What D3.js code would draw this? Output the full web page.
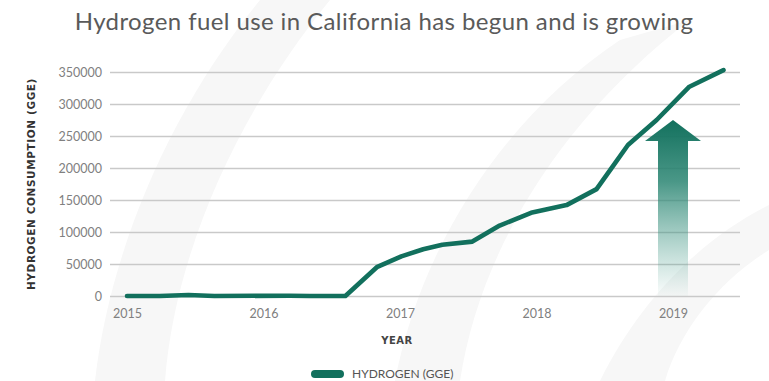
<!DOCTYPE html>
<html>
<head>
<meta charset="utf-8">
<script src="https://cdn.jsdelivr.net/npm/d3@7"></script>
<style>
  html, body { margin: 0; padding: 0; background: #fff; }
  svg { display: block; }
</style>
</head>
<body>
<svg id="chart" width="769" height="381"></svg>
<script>
// Monthly-ish sample points, as decimal years
const periods = [2015.0, 2015.24, 2015.45, 2015.64, 2016.19, 2016.34, 2016.6, 2016.83, 2017.01, 2017.17,
                 2017.31, 2017.53, 2017.73, 2017.96, 2018.22, 2018.44, 2018.56, 2018.67, 2018.88, 2019.12, 2019.37];
// Hydrogen consumption, gasoline gallon equivalents
const hydrogenGGE = [0, 0, 1500, 0, 500, 0, 0, 45000, 62000, 73000,
                     80000, 85000, 110000, 130000, 142000, 167000, 203000, 236000, 275000, 327000, 353000];
const yearTicks = [2015, 2016, 2017, 2018, 2019];
const valueTicks = [0, 50000, 100000, 150000, 200000, 250000, 300000, 350000];
// Growth arrow: drawn at 2019 from zero up to this level
const arrowYear = 2019;
const arrowTop = 275000;

const svg = d3.select("#chart");
const teal = "#12705d";

// faint watermark swooshes in the background
const bg = svg.append("g").attr("fill", "#f7f7f7");
bg.append("path").attr("d", "M95,381 C110,250 170,110 260,0 L330,0 C240,110 175,250 165,381 Z");
bg.append("path").attr("d", "M395,381 C420,250 500,120 620,40 L690,20 C560,120 480,250 460,381 Z");
bg.append("path").attr("d", "M600,381 C640,300 700,240 769,205 L769,250 C720,280 680,330 665,381 Z");

const x = d3.scaleLinear().domain([2015, 2019]).range([127, 673]);
const y = d3.scaleLinear().domain([0, 350000]).range([296, 72]);

// gridlines
const grid = d3.axisLeft(y).tickValues(valueTicks).tickSize(-630).tickFormat("");
svg.append("g").attr("transform", "translate(110,0)").call(grid)
  .call(g => g.select(".domain").remove())
  .call(g => g.selectAll("line").attr("stroke", "#c9c9c9").attr("stroke-width", 1.3));

// y tick labels
const yAxis = d3.axisLeft(y).tickValues(valueTicks).tickSize(0).tickPadding(0).tickFormat(d3.format("d"));
svg.append("g").attr("transform", "translate(102,0)").call(yAxis)
  .call(g => g.select(".domain").remove())
  .call(g => g.selectAll("text").attr("fill", "#808080").attr("font-size", 12.5)
    .attr("font-family", "Lato, 'DejaVu Sans', sans-serif"));

// x tick labels
const xAxis = d3.axisBottom(x).tickValues(yearTicks).tickSize(0).tickPadding(0).tickFormat(d3.format("d"));
svg.append("g").attr("transform", "translate(0,309)").call(xAxis)
  .call(g => g.select(".domain").remove())
  .call(g => g.selectAll("text").attr("fill", "#808080").attr("font-size", 12.5)
    .attr("font-family", "Lato, 'DejaVu Sans', sans-serif"));

// growth arrow with fading gradient
const defs = svg.append("defs");
const grad = defs.append("linearGradient").attr("id", "arrowFade")
  .attr("gradientUnits", "userSpaceOnUse")
  .attr("x1", 0).attr("x2", 0).attr("y1", y(arrowTop)).attr("y2", y(0));
grad.append("stop").attr("offset", 0).attr("stop-color", teal).attr("stop-opacity", 1);
grad.append("stop").attr("offset", 0.35).attr("stop-color", "#2a8572").attr("stop-opacity", 0.85);
grad.append("stop").attr("offset", 1).attr("stop-color", "#5aa898").attr("stop-opacity", 0.03);

const ax = x(arrowYear), tipY = y(arrowTop), baseY = y(0);
const headH = 21, headW = 28, shaftW = 15;
const arrowPath = d3.path();
arrowPath.moveTo(ax, tipY);
arrowPath.lineTo(ax + headW, tipY + headH);
arrowPath.lineTo(ax + shaftW, tipY + headH);
arrowPath.lineTo(ax + shaftW, baseY);
arrowPath.lineTo(ax - shaftW, baseY);
arrowPath.lineTo(ax - shaftW, tipY + headH);
arrowPath.lineTo(ax - headW, tipY + headH);
arrowPath.closePath();
svg.append("path").attr("d", arrowPath.toString()).attr("fill", "url(#arrowFade)");

// consumption line
const data = periods.map((p, i) => ({ p, v: hydrogenGGE[i] }));
const line = d3.line().x(d => x(d.p)).y(d => y(d.v));
svg.append("path").datum(data).attr("d", line)
  .attr("fill", "none").attr("stroke", teal).attr("stroke-width", 4.6)
  .attr("stroke-linejoin", "round").attr("stroke-linecap", "round");

// title
svg.append("text").attr("x", 384).attr("y", 30).attr("text-anchor", "middle")
  .attr("font-family", "Lato, 'DejaVu Sans', sans-serif").attr("font-size", 24)
  .attr("letter-spacing", 0.4).attr("fill", "#5a5a5a").text("Hydrogen fuel use in California has begun and is growing");

// axis titles
svg.append("text").attr("transform", "translate(35,184) rotate(-90)").attr("text-anchor", "middle")
  .attr("font-family", "'DejaVu Sans', sans-serif").attr("font-weight", "bold").attr("font-size", 10.5)
  .attr("letter-spacing", 0.6).attr("fill", "#333").text("HYDROGEN CONSUMPTION (GGE)");
svg.append("text").attr("x", 397).attr("y", 344).attr("text-anchor", "middle")
  .attr("font-family", "'DejaVu Sans', sans-serif").attr("font-weight", "bold").attr("font-size", 10)
  .attr("letter-spacing", 0.5).attr("fill", "#444").text("YEAR");

// legend
svg.append("line").attr("x1", 315).attr("x2", 340).attr("y1", 374).attr("y2", 374)
  .attr("stroke", teal).attr("stroke-width", 8).attr("stroke-linecap", "round");
svg.append("text").attr("x", 352).attr("y", 378)
  .attr("font-family", "Lato, 'DejaVu Sans', sans-serif").attr("font-size", 12)
  .attr("fill", "#555").text("HYDROGEN (GGE)");
</script>
</body>
</html>
